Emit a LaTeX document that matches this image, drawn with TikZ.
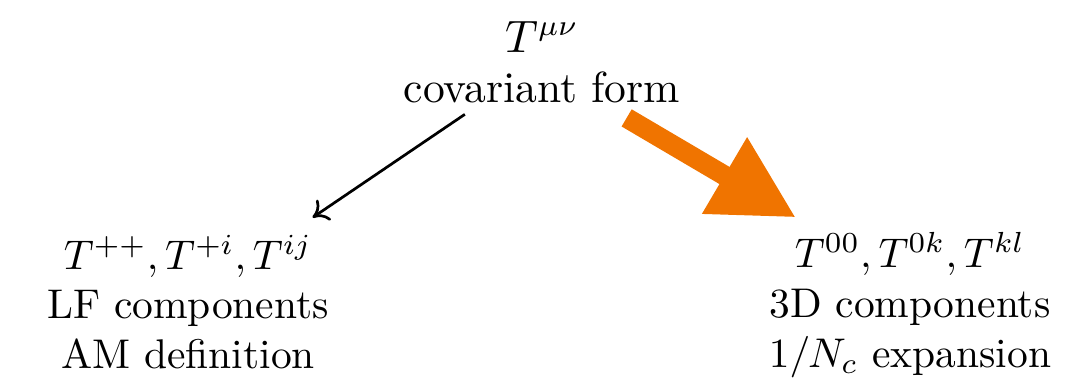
\documentclass[tikz,border=0pt]{standalone}
\usetikzlibrary{arrows.meta,calc}
\definecolor{arroworange}{RGB}{240,116,0}
\begin{document}
\begin{tikzpicture}[x=0.241pt,y=-0.241pt,
  block/.style={align=center,inner sep=0pt,font=\fontsize{10}{12}\selectfont},
  thinarrow/.style={-{To[length=3.5pt,width=6pt]},line width=0.65pt,black},
  fatarrow/.style={-{Triangle[length=20pt,width=20pt]},line width=4.8pt,arroworange}]
\useasboundingbox (0,0) rectangle (1077,391);
\node[block,font=\fontsize{10.5}{12}\selectfont] (top) at (542,62) {$T^{\mu\nu}$\\covariant form};
\node[block] (left) at (188,302) {$T^{++},T^{+i},T^{ij}$\\LF components\\AM definition};
\node[block] (right) at (910,305) {$T^{00},T^{0k},T^{kl}$\\3D components\\$1/N_c$ expansion};
\draw[thinarrow] ($(top)!0.218!(left)$) -- ($(top)!0.648!(left)$);
\coordinate (otip) at ($(right.north)+(-114,-14)$);
\draw[fatarrow] ($(top)!0.23!(right)$) -- (otip);
\end{tikzpicture}
\end{document}
